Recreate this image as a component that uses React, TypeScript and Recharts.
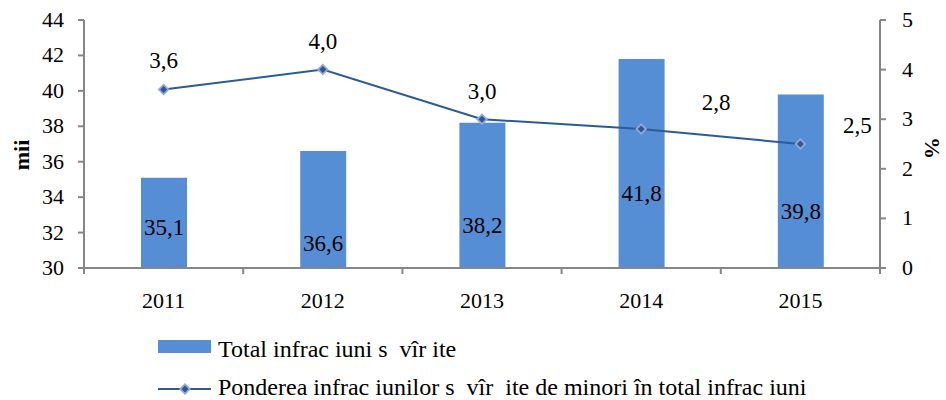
import { Bar, ComposedChart, LabelList, Line, XAxis, YAxis } from 'recharts';

const years = ['2011', '2012', '2013', '2014', '2015'];
const totalCrimes = [35.1, 36.6, 38.2, 41.8, 39.8];
const minorShare = [3.6, 4.0, 3.0, 2.8, 2.5];
const leftTicks = [30, 32, 34, 36, 38, 40, 42, 44];
const rightTicks = [0, 1, 2, 3, 4, 5];

const barName = 'Total infrac iuni s  vîr ite';
const lineName = 'Ponderea infrac iunilor s  vîr  ite de minori în total infrac iuni';

const data = years.map((year, i) => ({ year, total: totalCrimes[i], share: minorShare[i] }));

const W = 946;
const H = 400;
const PLOT_LEFT = 84;
const PLOT_RIGHT = 880;
const BAND = (PLOT_RIGHT - PLOT_LEFT) / years.length;
const FONT = 'Liberation Serif, Times New Roman, serif';
const AXIS = '#868686';
const BAR = '#558ed5';
const LINE = '#2c5b97';

const fmt = (v: number) => v.toFixed(1).replace('.', ',');

// per-point label offsets, mimicking the original layout
const barLabelDy = [4, 33, 30, 30, 30];
const lineLabelOffset = [
  [0, -29],
  [0, -29],
  [0, -28],
  [75, -27],
  [57, -19],
];

function XTick(props: any) {
  const { x, y, payload, index } = props;
  const left = x - BAND / 2;
  return (
    <g>
      <line x1={left} y1={y - 8} x2={left} y2={y - 2} stroke={AXIS} strokeWidth={2} />
      {index === years.length - 1 && (
        <line x1={x + BAND / 2} y1={y - 8} x2={x + BAND / 2} y2={y - 2} stroke={AXIS} strokeWidth={2} />
      )}
      <text x={x} y={y + 32} textAnchor="middle" fontSize={22} fontFamily={FONT} fill="#000">
        {payload.value}
      </text>
    </g>
  );
}

function YTick(props: any) {
  const { x, y, payload, textAnchor } = props;
  const dx = textAnchor === 'end' ? -12 : 14;
  return (
    <text x={x + dx} y={y + 7} textAnchor={textAnchor} fontSize={22} fontFamily={FONT} fill="#000">
      {payload.value}
    </text>
  );
}

function Diamond(props: any) {
  const { cx, cy } = props;
  if (cx == null || cy == null) return null;
  return (
    <g>
      <path d={`M${cx},${cy - 6} L${cx + 6},${cy} L${cx},${cy + 6} L${cx - 6},${cy} Z`} fill="#8fabd6" />
      <path d={`M${cx},${cy - 3.5} L${cx + 3.5},${cy} L${cx},${cy + 3.5} L${cx - 3.5},${cy} Z`} fill="#2f5597" />
    </g>
  );
}

function BarLabel(props: any) {
  const { x, y, width, height, value, index } = props;
  return (
    <text
      x={x + width / 2}
      y={y + height / 2 + barLabelDy[index] + 8}
      textAnchor="middle"
      fontSize={23}
      fontFamily={FONT}
      fill="#000"
    >
      {fmt(value)}
    </text>
  );
}

function LineLabel(props: any) {
  const { x, y, value, index } = props;
  const [dx, dy] = lineLabelOffset[index];
  return (
    <text x={x + dx} y={y + dy + 8} textAnchor="middle" fontSize={23} fontFamily={FONT} fill="#000">
      {fmt(value)}
    </text>
  );
}

function Overlay() {
  const title = { fontSize: 22, fontWeight: 'bold' as const, fontFamily: FONT, fill: '#000' };
  const legendText = { fontSize: 24, fontFamily: FONT, fill: '#000', whiteSpace: 'pre' as const };
  return (
    <svg width={W} height={H} style={{ position: 'absolute', left: 0, top: 0, pointerEvents: 'none' }}>
      <text transform="translate(29,155) rotate(-90)" textAnchor="middle" {...title}>
        mii
      </text>
      <text transform="translate(925,148) rotate(90)" textAnchor="middle" {...title}>
        %
      </text>
      <rect x={158} y={340} width={53} height={13} fill={BAR} />
      <text x={218} y={357} style={legendText}>
        {barName}
      </text>
      <line x1={158} y1={389} x2={211} y2={389} stroke={LINE} strokeWidth={2} />
      <Diamond cx={185} cy={389} />
      <text x={218} y={395} style={legendText}>
        {lineName}
      </text>
    </svg>
  );
}

export default function App() {
  return (
    <div
      style={{
        position: 'fixed',
        left: 0,
        top: 0,
        width: W,
        height: H,
        background: '#fff',
        overflow: 'hidden',
      }}
    >
      <ComposedChart width={W} height={H} data={data} margin={{ top: 20, right: 16, bottom: 92, left: 24 }}>
        <XAxis
          dataKey="year"
          xAxisId="x"
          stroke={AXIS}
          strokeWidth={2}
          tickLine={false}
          tick={<XTick />}
          height={40}
          interval={0}
        />
        <YAxis
          yAxisId="left"
          domain={[30, 44]}
          ticks={leftTicks}
          width={60}
          stroke={AXIS}
          strokeWidth={2}
          tickSize={6}
          tick={<YTick />}
          interval={0}
          allowDataOverflow
        />
        <YAxis
          yAxisId="right"
          orientation="right"
          domain={[0, 5]}
          ticks={rightTicks}
          width={50}
          stroke={AXIS}
          strokeWidth={2}
          tickSize={6}
          tick={<YTick />}
          interval={0}
        />
        <Bar
          name={barName}
          dataKey="total"
          xAxisId="x"
          yAxisId="left"
          fill={BAR}
          barSize={46}
          isAnimationActive={false}
        >
          <LabelList dataKey="total" content={<BarLabel />} />
        </Bar>
        <Line
          name={lineName}
          dataKey="share"
          xAxisId="x"
          yAxisId="right"
          stroke={LINE}
          strokeWidth={2}
          dot={<Diamond />}
          activeDot={false}
          isAnimationActive={false}
        >
          <LabelList dataKey="share" content={<LineLabel />} />
        </Line>
      </ComposedChart>
      <Overlay />
    </div>
  );
}
